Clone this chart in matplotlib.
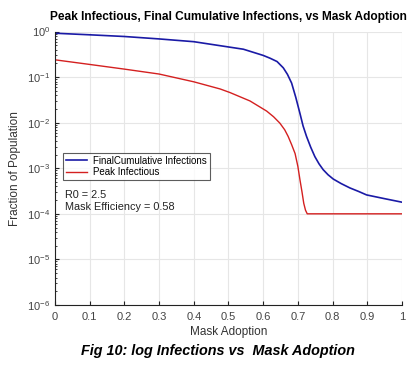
import matplotlib
matplotlib.use("Agg")
import matplotlib.pyplot as plt
from matplotlib.ticker import LogLocator, FixedLocator

plt.rcParams["font.family"] = ["Liberation Sans", "DejaVu Sans"]

# mask adoption vs final cumulative infections (blue)
adopt_final = [0, 0.1, 0.2, 0.3, 0.4, 0.476, 0.543, 0.6, 0.62, 0.64, 0.658,
               0.67, 0.682, 0.694, 0.706, 0.715, 0.725, 0.737, 0.749, 0.761,
               0.773, 0.787, 0.802, 0.825, 0.85, 0.875, 0.898, 0.95, 1.0]
final_cum = [0.92, 0.85, 0.78, 0.69, 0.60, 0.49, 0.41, 0.30, 0.26, 0.22, 0.16,
             0.115, 0.074, 0.036, 0.016, 8.5e-3, 5.0e-3, 2.9e-3, 1.8e-3, 1.25e-3,
             9.3e-4, 7.2e-4, 5.8e-4, 4.6e-4, 3.7e-4, 3.1e-4, 2.6e-4, 2.15e-4, 1.8e-4]

# mask adoption vs peak infectious (red)
adopt_peak = [0, 0.1, 0.2, 0.3, 0.4, 0.476, 0.504, 0.562, 0.61, 0.63, 0.648,
              0.662, 0.672, 0.682, 0.692, 0.700, 0.706, 0.712, 0.717, 0.722,
              0.727, 1.0]
peak_inf = [0.24, 0.19, 0.15, 0.117, 0.079, 0.055, 0.046, 0.030, 0.018, 0.0135,
            9.8e-3, 7.0e-3, 5.0e-3, 3.3e-3, 2.1e-3, 1.1e-3, 5.6e-4, 3.0e-4,
            1.7e-4, 1.2e-4, 1e-4, 1e-4]

x_ticks = [0, 0.1, 0.2, 0.3, 0.4, 0.5, 0.6, 0.7, 0.8, 0.9, 1]
x_labels = ["0", "0.1", "0.2", "0.3", "0.4", "0.5", "0.6", "0.7", "0.8", "0.9", "1"]

fig = plt.figure(figsize=(4.2, 3.76), dpi=100)
ax = fig.add_axes([0.131, 0.189, 0.826, 0.727])

ax.plot(adopt_final, final_cum, color="#1a1aa6", lw=1.2, label="FinalCumulative Infections")
ax.plot(adopt_peak, peak_inf, color="#d42020", lw=1.0, label="Peak Infectious")

ax.set_yscale("log")
ax.set_xlim(0, 1)
ax.set_ylim(1e-6, 1)
ax.xaxis.set_major_locator(FixedLocator(x_ticks))
ax.set_xticklabels(x_labels)
ax.yaxis.set_major_locator(LogLocator(base=10, numticks=10))
ax.yaxis.set_minor_locator(LogLocator(base=10, subs=range(2, 10), numticks=10))

ax.grid(True, which="major", color="#e6e6e6", lw=0.8)
ax.set_axisbelow(True)
for s in ["top", "right"]:
    ax.spines[s].set_visible(False)
for s in ["left", "bottom"]:
    ax.spines[s].set_color("#222222")
    ax.spines[s].set_linewidth(0.8)
ax.tick_params(which="both", direction="in", labelsize=8, colors="#222222",
               labelcolor="#444444")
ax.tick_params(which="major", length=3)
ax.tick_params(which="minor", length=1.5)
ax.tick_params(axis="x", pad=5)

ax.set_xlabel("Mask Adoption", fontsize=8.5, color="#333333", labelpad=3)
ax.set_ylabel("Fraction of Population", fontsize=8.5, color="#333333", labelpad=4)
ax.set_title("Peak Infectious, Final Cumulative Infections, vs Mask Adoption",
             fontsize=8.6, fontweight="bold", pad=8)

leg = ax.legend(loc="upper left", bbox_to_anchor=(0.023, 0.556), fontsize=7,
                frameon=True, fancybox=False, borderpad=0.3, labelspacing=0.15,
                handlelength=2.2, handletextpad=0.6, borderaxespad=0)
leg.get_frame().set_edgecolor("#333333")
leg.get_frame().set_linewidth(0.8)

ax.text(0.03, 0.42, "R0 = 2.5\nMask Efficiency = 0.58", transform=ax.transAxes,
        fontsize=7.8, color="#222222", va="top", linespacing=1.25)

fig.text(0.52, 0.056, "Fig 10: log Infections vs  Mask Adoption", fontsize=10.4,
         fontweight="bold", style="italic", ha="center")

fig.savefig("out.png", dpi=100)
